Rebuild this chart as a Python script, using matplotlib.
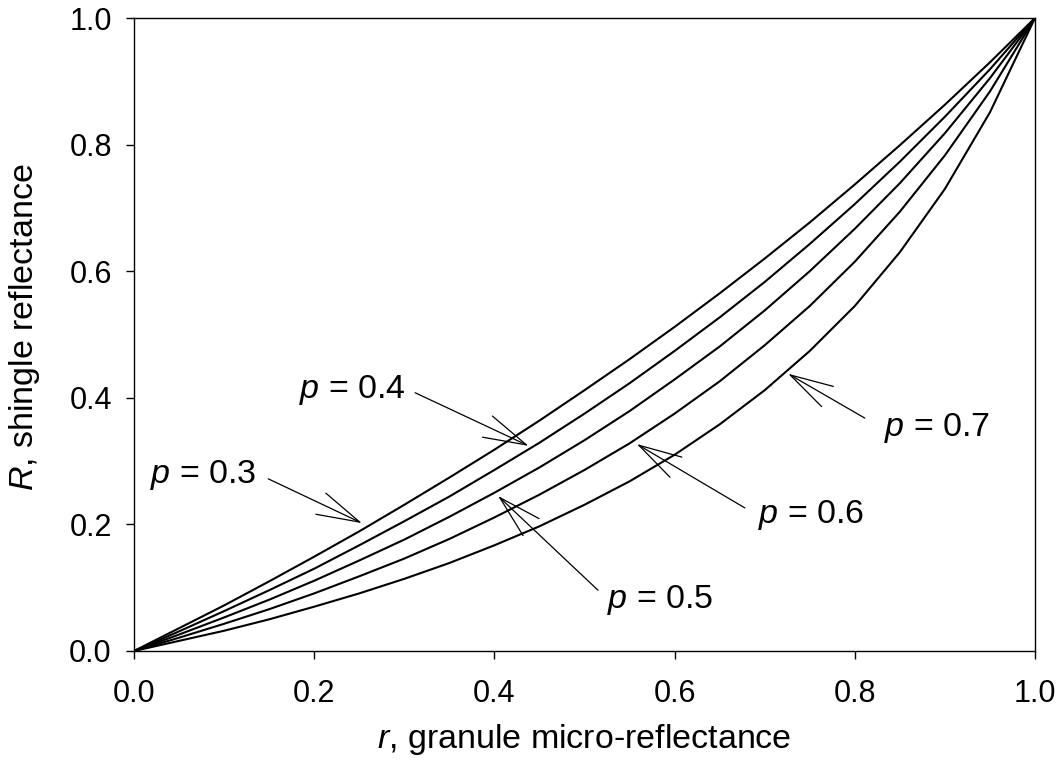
import matplotlib

matplotlib.use("Agg")
import matplotlib.pyplot as plt

# granule micro-reflectance r
r_values = [0.0, 0.05, 0.10, 0.15, 0.20, 0.25, 0.30, 0.35, 0.40, 0.45, 0.50,
            0.55, 0.60, 0.65, 0.70, 0.75, 0.80, 0.85, 0.90, 0.95, 1.0]

# shingle reflectance R for each p curve
R_p03 = [0.0, 0.036, 0.072, 0.110, 0.149, 0.189, 0.231, 0.274, 0.318, 0.364, 0.412,
         0.461, 0.512, 0.565, 0.620, 0.677, 0.737, 0.799, 0.863, 0.930, 1.0]
R_p04 = [0.0, 0.031, 0.063, 0.096, 0.130, 0.167, 0.205, 0.244, 0.286, 0.329, 0.375,
         0.423, 0.474, 0.527, 0.583, 0.643, 0.706, 0.773, 0.844, 0.919, 1.0]
R_p05 = [0.0, 0.026, 0.053, 0.081, 0.111, 0.143, 0.176, 0.212, 0.250, 0.290, 0.333,
         0.379, 0.429, 0.481, 0.538, 0.600, 0.667, 0.739, 0.818, 0.905, 1.0]
R_p06 = [0.0, 0.021, 0.043, 0.066, 0.091, 0.118, 0.146, 0.177, 0.211, 0.247, 0.286,
         0.328, 0.375, 0.426, 0.483, 0.545, 0.615, 0.694, 0.783, 0.884, 1.0]
R_p07 = [0.0, 0.016, 0.032, 0.050, 0.070, 0.091, 0.114, 0.139, 0.167, 0.197, 0.231,
         0.268, 0.310, 0.358, 0.412, 0.474, 0.545, 0.630, 0.730, 0.851, 1.0]

curves = [R_p03, R_p04, R_p05, R_p06, R_p07]

# labels: text, text position, arrow tail, arrow head (data units)
label_texts = ["0.3", "0.4", "0.5", "0.6", "0.7"]
label_xy = [(0.077, 0.278), (0.242, 0.412), (0.584, 0.081), (0.752, 0.215), (0.891, 0.352)]
arrow_tails = [(0.149, 0.272), (0.312, 0.408), (0.515, 0.096), (0.678, 0.226), (0.811, 0.368)]
arrow_heads = [(0.253, 0.202), (0.438, 0.324), (0.404, 0.245), (0.558, 0.327), (0.726, 0.438)]

plt.rcParams["font.family"] = ["Liberation Sans", "DejaVu Sans"]
plt.rcParams["mathtext.fontset"] = "custom"
plt.rcParams["mathtext.it"] = "Liberation Sans:italic"
plt.rcParams["mathtext.rm"] = "Liberation Sans"

fig = plt.figure(figsize=(10.64, 7.77), dpi=100)
axis = fig.add_axes([134 / 1064, 126 / 777, 901 / 1064, 633 / 777])

for values in curves:
    axis.plot(r_values, values, color="black", linewidth=1.5)

for text, xy, tail, head in zip(label_texts, label_xy, arrow_tails, arrow_heads):
    axis.text(xy[0], xy[1], "$p$ = " + text, fontsize=24.5, ha="center", va="center")
    axis.annotate(
        "",
        xy=head,
        xytext=tail,
        arrowprops=dict(
            arrowstyle="->,head_length=3.1,head_width=0.84",
            color="black",
            linewidth=0.9,
            shrinkA=0,
            shrinkB=0,
            mutation_scale=10,
        ),
    )

axis.set_xlim(0, 1)
axis.set_ylim(0, 1)
axis.set_xticks([0.0, 0.2, 0.4, 0.6, 0.8, 1.0])
axis.set_yticks([0.0, 0.2, 0.4, 0.6, 0.8, 1.0])
axis.xaxis.set_major_formatter(matplotlib.ticker.FormatStrFormatter("%.1f"))
axis.yaxis.set_major_formatter(matplotlib.ticker.FormatStrFormatter("%.1f"))
axis.tick_params(axis="both", direction="out", length=6, width=1, labelsize=22)
axis.tick_params(axis="x", pad=14)
axis.tick_params(axis="y", pad=10)
axis.tick_params(top=False, right=False)
for spine in axis.spines.values():
    spine.set_linewidth(1)

axis.set_xlabel("$r$, granule micro-reflectance", fontsize=24.5)
axis.set_ylabel("$R$, shingle reflectance", fontsize=24.5)
axis.xaxis.set_label_coords(0.5, -(722 - 651) / 633)
axis.yaxis.set_label_coords(-(134 - 42) / 901, (651 - 327) / 633)

fig.savefig("out.png", dpi=100)
plt.close(fig)
